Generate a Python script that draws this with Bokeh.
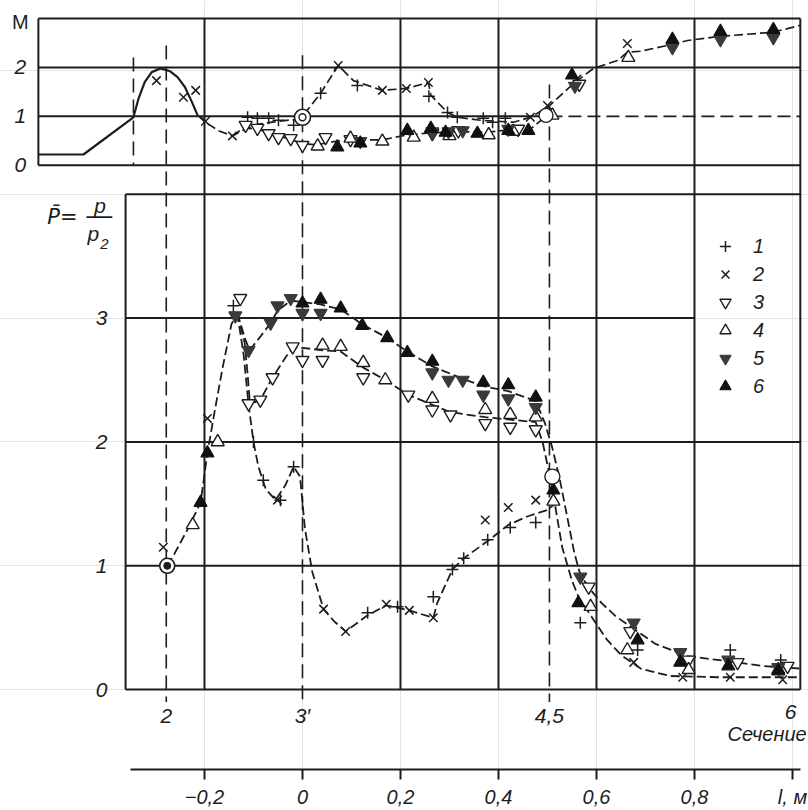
from bokeh.plotting import figure
from bokeh.models import Range1d, LinearAxis, FixedTicker, Legend, LegendItem
from bokeh.core.properties import value
from bokeh.embed import file_html
from bokeh.resources import INLINE

# ------------------------------------------------------------------ data
# l, m : position along the duct;  M : Mach number (top);  P = p/p2 (bottom)
L_TICKS = [-0.2, 0.0, 0.2, 0.4, 0.6, 0.8, 1.0]
L_TICK_LABELS = ["\u22120,2", "0", "0,2", "0,4", "0,6", "0,8", "l, \u043c"]
M_TICKS = [0, 1, 2]
P_TICKS = [0, 1, 2, 3]
GRID_L = [-0.2, 0.2, 0.4, 0.6, 0.8]

SECTION_NAMES = ["2", "3\u2032", "4,5", "6"]
SECTION_L = [-0.278, 0.0, 0.504, 1.016]
SECTION_TOP_M = [2.45, 2.25, 1.65]
THROAT_L = -0.345
THROAT_TOP_M = 2.2

LEGEND_LABELS = ["1", "2", "3", "4", "5", "6"]

# --- top panel, M(l)
M_THEORY_L = [-0.539, -0.447, -0.345, -0.335, -0.322, -0.308, -0.29, -0.27, -0.255, -0.24, -0.226, -0.214]
M_THEORY = [0.22, 0.22, 0.98, 1.35, 1.7, 1.9, 1.98, 1.92, 1.8, 1.6, 1.3, 1.02]

M_UPPER_L = [-0.214, -0.198, -0.17, -0.143, -0.12, -0.09, -0.05, -0.018, 0.0, 0.037, 0.073, 0.104,
             0.163, 0.212, 0.257, 0.262, 0.296, 0.316, 0.363, 0.431, 0.465, 0.5, 0.553, 0.594,
             0.643, 0.663, 0.69, 0.745, 0.786, 0.847, 0.961, 1.016]
M_UPPER = [1.02, 0.88, 0.7, 0.6, 0.72, 0.84, 0.9, 0.93, 1.0, 1.47, 2.04, 1.73,
           1.53, 1.57, 1.69, 1.43, 1.08, 0.98, 0.92, 0.88, 0.98, 1.18, 1.67, 1.98,
           2.14, 2.31, 2.33, 2.45, 2.55, 2.63, 2.72, 2.86]
M_LOWER_L = [-0.143, -0.12, -0.09, -0.06, -0.03, 0.0, 0.03, 0.06, 0.1, 0.163, 0.214, 0.26,
             0.32, 0.37, 0.42, 0.465, 0.497]
M_LOWER = [0.6, 0.76, 0.74, 0.62, 0.55, 0.44, 0.42, 0.48, 0.52, 0.52, 0.62, 0.66,
           0.69, 0.67, 0.72, 0.74, 1.0]

M1_L = [-0.112, -0.092, -0.069, -0.049, -0.018, 0.037, 0.112, 0.258, 0.296, 0.316, 0.369, 0.388, 0.414]
M1 = [0.98, 0.96, 0.96, 0.92, 0.82, 1.47, 1.63, 1.41, 1.08, 0.98, 0.96, 0.88, 0.96]
M2_L = [-0.298, -0.243, -0.218, -0.198, -0.143, 0.073, 0.163, 0.212, 0.257, 0.465, 0.5, 0.56, 0.663]
M2 = [1.73, 1.39, 1.53, 0.9, 0.6, 2.04, 1.53, 1.57, 1.69, 0.98, 1.22, 1.76, 2.49]
M3_L = [-0.116, -0.092, -0.069, -0.049, -0.024, 0.0, 0.047, 0.098, 0.265, 0.318, 0.44, 0.565]
M3 = [0.82, 0.76, 0.65, 0.57, 0.55, 0.41, 0.57, 0.53, 0.65, 0.71, 0.74, 1.66]
M4_L = [0.031, 0.098, 0.163, 0.227, 0.3, 0.38, 0.43, 0.51, 0.665]
M4 = [0.39, 0.55, 0.49, 0.57, 0.6, 0.62, 0.69, 1.02, 2.2]
M5_L = [0.118, 0.265, 0.298, 0.327, 0.42, 0.556, 0.755, 0.853, 0.961]
M5 = [0.49, 0.69, 0.69, 0.71, 0.74, 1.62, 2.41, 2.57, 2.61]
M6_L = [0.071, 0.118, 0.214, 0.262, 0.292, 0.357, 0.42, 0.461, 0.55, 0.755, 0.853, 0.961]
M6 = [0.37, 0.45, 0.71, 0.75, 0.67, 0.65, 0.71, 0.71, 1.84, 2.57, 2.73, 2.77]

M_RING = (0.0, 0.98)        # double ring, section 3'
M_OPEN = (0.497, 1.02)      # open circle, section 4,5

# --- bottom panel, P(l)
P_RISE_L = [-0.276, -0.265, -0.235, -0.208, -0.194, -0.18, -0.163, -0.145, -0.133]
P_RISE = [1.0, 1.07, 1.29, 1.51, 1.91, 2.23, 2.6, 2.95, 3.04]
P_C56_L = [-0.133, -0.116, -0.108, -0.086, -0.065, -0.051, -0.024, 0.0, 0.037, 0.078, 0.122,
           0.173, 0.214, 0.265, 0.327, 0.369, 0.42, 0.476, 0.495, 0.51, 0.525, 0.54, 0.555,
           0.567, 0.585, 0.61, 0.64, 0.669, 0.72, 0.786, 0.867, 0.94, 1.016]
P_C56 = [3.04, 2.82, 2.74, 2.85, 2.96, 3.06, 3.14, 3.13, 3.11, 3.07, 2.95,
         2.84, 2.73, 2.61, 2.51, 2.45, 2.41, 2.33, 2.15, 1.95, 1.7, 1.4, 1.1,
         0.93, 0.82, 0.7, 0.59, 0.51, 0.37, 0.27, 0.23, 0.19, 0.17]
P_C34_L = [-0.133, -0.118, -0.112, -0.108, -0.098, -0.086, -0.061, -0.035, -0.02, 0.0, 0.041,
           0.078, 0.124, 0.169, 0.216, 0.265, 0.302, 0.373, 0.424, 0.476, 0.49, 0.505, 0.515,
           0.53, 0.55, 0.563, 0.588, 0.62, 0.65, 0.69, 0.75, 0.85, 1.016]
P_C34 = [3.04, 2.8, 2.55, 2.35, 2.32, 2.34, 2.52, 2.68, 2.76, 2.76, 2.74,
         2.73, 2.6, 2.5, 2.38, 2.3, 2.24, 2.2, 2.18, 2.16, 2.0, 1.72, 1.5,
         1.15, 0.88, 0.75, 0.6, 0.41, 0.28, 0.17, 0.11, 0.1, 0.1]
P_C12_L = [-0.133, -0.12, -0.11, -0.1, -0.09, -0.075, -0.055, -0.035, -0.018, -0.005, 0.005,
           0.02, 0.043, 0.065, 0.088, 0.133, 0.171, 0.218, 0.267, 0.275, 0.306, 0.329, 0.378,
           0.42, 0.46, 0.5, 0.515]
P_C12 = [3.04, 2.7, 2.3, 2.0, 1.8, 1.62, 1.53, 1.65, 1.8, 1.72, 1.3,
         0.95, 0.65, 0.55, 0.47, 0.6, 0.68, 0.64, 0.58, 0.7, 0.97, 1.06, 1.2,
         1.33, 1.4, 1.45, 1.5]

P1_L = [-0.141, -0.1, -0.08, -0.045, -0.018, 0.133, 0.194, 0.267, 0.306, 0.329, 0.378, 0.424,
        0.476, 0.567, 0.684, 0.873, 0.976]
P1 = [3.10, 2.0, 1.69, 1.53, 1.80, 0.62, 0.67, 0.75, 0.97, 1.06, 1.21, 1.31,
      1.35, 0.54, 0.32, 0.32, 0.24]
P2_L = [-0.284, -0.194, -0.051, 0.043, 0.088, 0.171, 0.218, 0.267, 0.373, 0.42, 0.476, 0.676,
        0.776, 0.873, 0.98]
P2 = [1.15, 2.19, 1.53, 0.65, 0.47, 0.69, 0.64, 0.58, 1.37, 1.47, 1.53, 0.22,
      0.10, 0.10, 0.08]
P3_L = [-0.127, -0.11, -0.086, -0.061, -0.02, 0.0, 0.041, 0.124, 0.216, 0.265, 0.302, 0.373,
        0.424, 0.476, 0.584, 0.669, 0.788, 0.888, 0.99]
P3 = [3.16, 2.31, 2.34, 2.52, 2.77, 2.66, 2.66, 2.52, 2.38, 2.26, 2.22, 2.15,
      2.12, 2.10, 0.83, 0.47, 0.24, 0.22, 0.19]
P4_L = [-0.224, -0.173, 0.041, 0.078, 0.124, 0.169, 0.265, 0.373, 0.424, 0.476, 0.512, 0.588,
        0.663, 0.788, 0.971]
P4 = [1.33, 2.0, 2.78, 2.77, 2.64, 2.50, 2.35, 2.26, 2.22, 2.20, 1.52, 0.67,
      0.32, 0.16, 0.16]
P5_L = [-0.137, -0.11, -0.065, -0.051, -0.024, 0.0, 0.037, 0.265, 0.298, 0.327, 0.369, 0.42,
        0.476, 0.567, 0.676, 0.771, 0.869, 0.971]
P5 = [3.02, 2.74, 2.96, 3.10, 3.16, 3.04, 3.04, 2.56, 2.50, 2.50, 2.38, 2.35,
      2.28, 0.91, 0.54, 0.30, 0.24, 0.18]
P6_L = [-0.208, -0.194, 0.0, 0.037, 0.078, 0.122, 0.173, 0.214, 0.265, 0.369, 0.42, 0.476,
        0.512, 0.563, 0.684, 0.771, 0.869, 0.971]
P6 = [1.51, 1.91, 3.12, 3.15, 3.08, 2.94, 2.84, 2.72, 2.65, 2.48, 2.46, 2.36,
      1.61, 0.70, 0.40, 0.22, 0.19, 0.15]

P_RING = (-0.276, 1.0)      # section 2 reference point
P_OPEN = (0.51, 1.72)       # open circle, section 4,5

# ------------------------------------------------------------------ layout
L_START, L_END = -0.6163, 1.0327
P_START, P_END = -0.645, 5.5645
M_START, M_END = -12.347, 3.367
TOP_LEFT_L, BOT_LEFT_L, RIGHT_L = -0.539, -0.361, 1.016
M_TOP, P_TOP = 3.0, 4.0
AXIS_BOUNDS = (-0.351, 1.016)

INK = "#1d1d1d"
FONT = value("Liberation Sans")


def m_of_p(pv):
    return M_START + (pv - P_START) * (M_END - M_START) / (P_END - P_START)


p = figure(width=808, height=810, x_range=Range1d(L_START, L_END),
           y_range=Range1d(P_START, P_END), output_backend="svg",
           toolbar_location=None, x_axis_location=None, y_axis_location=None,
           min_border_left=0, min_border_right=0, min_border_top=0,
           min_border_bottom=40, outline_line_color=None,
           background_fill_color="white", border_fill_color="white")
p.extra_y_ranges = {"M": Range1d(M_START, M_END)}

ax = LinearAxis(ticker=FixedTicker(ticks=L_TICKS), bounds=AXIS_BOUNDS)
ax.major_label_overrides = {t: s for t, s in zip(L_TICKS, L_TICK_LABELS)}
ax.axis_line_width = 2
ax.axis_line_color = INK
ax.major_tick_in = 0
ax.major_tick_out = 10
ax.major_tick_line_width = 2
ax.major_tick_line_color = INK
ax.minor_tick_line_color = None
ax.major_label_standoff = 6
ax.major_label_text_font = "Liberation Sans"
ax.major_label_text_font_style = "italic"
ax.major_label_text_font_size = "20px"
ax.major_label_text_color = INK
p.add_layout(ax, "below")

# ---------------- frame & grid (top panel, M coordinates)
bottom_m = m_of_p(0.0)
top_xs = [[TOP_LEFT_L, RIGHT_L], [TOP_LEFT_L, RIGHT_L], [TOP_LEFT_L, TOP_LEFT_L],
          [TOP_LEFT_L, RIGHT_L], [TOP_LEFT_L, SECTION_L[2]], [RIGHT_L, RIGHT_L]]
top_ys = [[M_TOP, M_TOP], [M_TICKS[0], M_TICKS[0]], [M_TICKS[0], M_TOP],
          [M_TICKS[2], M_TICKS[2]], [M_TICKS[1], M_TICKS[1]], [M_TOP, bottom_m]]
for g in GRID_L:
    top_xs.append([g, g])
    top_ys.append([M_TOP, bottom_m])
p.multi_line(top_xs, top_ys, line_color=INK, line_width=2, y_range_name="M")
# dashed continuation of M = 1
p.line([SECTION_L[2], RIGHT_L], [M_TICKS[1], M_TICKS[1]], line_color=INK, line_width=1.6,
       line_dash="13 6", y_range_name="M")

# ---------------- frame & grid (bottom panel, P coordinates)
bot_xs = [[BOT_LEFT_L, RIGHT_L], [BOT_LEFT_L, RIGHT_L], [BOT_LEFT_L, BOT_LEFT_L],
          [BOT_LEFT_L, RIGHT_L], [BOT_LEFT_L, RIGHT_L], [BOT_LEFT_L, GRID_L[-1]]]
bot_ys = [[P_TOP, P_TOP], [P_TICKS[0], P_TICKS[0]], [P_TICKS[0], P_TOP],
          [P_TICKS[1], P_TICKS[1]], [P_TICKS[2], P_TICKS[2]], [P_TICKS[3], P_TICKS[3]]]
p.multi_line(bot_xs, bot_ys, line_color=INK, line_width=2)

# ---------------- section (dashed) lines
sec_bottom_m = m_of_p(-0.1)
sec_xs = [[THROAT_L, THROAT_L]] + [[s, s] for s in SECTION_L[:3]]
sec_ys = [[THROAT_TOP_M, 0.0]] + [[t, sec_bottom_m] for t in SECTION_TOP_M]
p.multi_line(sec_xs, sec_ys, line_color=INK, line_width=1.6, line_dash="14 7", y_range_name="M")

# ---------------- curves
p.line(M_THEORY_L, M_THEORY, line_color=INK, line_width=2.2, y_range_name="M")
for xs, ys in [(M_UPPER_L, M_UPPER), (M_LOWER_L, M_LOWER)]:
    p.line(xs, ys, line_color=INK, line_width=1.7, line_dash="9 4", y_range_name="M")
for xs, ys in [(P_RISE_L, P_RISE), (P_C56_L, P_C56), (P_C34_L, P_C34), (P_C12_L, P_C12)]:
    p.line(xs, ys, line_color=INK, line_width=1.8, line_dash="9 4")

# ---------------- markers
STYLES = [
    dict(marker="cross", size=12, line_color=INK, line_width=1.5),
    dict(marker="x", size=12, line_color=INK, line_width=1.5),
    dict(marker="inverted_triangle", size=13, line_color=INK, fill_color="white", line_width=1.4),
    dict(marker="triangle", size=13, line_color=INK, fill_color="white", line_width=1.4),
    dict(marker="inverted_triangle", size=13, line_color="#3a3a3a", fill_color="#3a3a3a", line_width=1.2),
    dict(marker="triangle", size=13, line_color="#111111", fill_color="#111111", line_width=1.2),
]
TOP_SERIES = [(M1_L, M1), (M2_L, M2), (M3_L, M3), (M4_L, M4), (M5_L, M5), (M6_L, M6)]
BOT_SERIES = [(P1_L, P1), (P2_L, P2), (P3_L, P3), (P4_L, P4), (P5_L, P5), (P6_L, P6)]
for (xs, ys), st in zip(TOP_SERIES, STYLES):
    p.scatter(xs, ys, y_range_name="M", **st)
bot_renderers = []
for (xs, ys), st in zip(BOT_SERIES, STYLES):
    bot_renderers.append(p.scatter(xs, ys, **st))

# reference points
p.scatter([M_RING[0]], [M_RING[1]], marker="circle", size=16, fill_color="white", line_color=INK, line_width=1.6, y_range_name="M")
p.scatter([M_RING[0]], [M_RING[1]], marker="circle", size=7, fill_color="white", line_color=INK, line_width=1.4, y_range_name="M")
p.scatter([M_OPEN[0]], [M_OPEN[1]], marker="circle", size=14, fill_color="white", line_color=INK, line_width=1.4, y_range_name="M")
p.scatter([P_RING[0]], [P_RING[1]], marker="circle", size=15, fill_color="white", line_color=INK, line_width=1.6)
p.scatter([P_RING[0]], [P_RING[1]], marker="circle", size=7, fill_color=INK, line_color=INK)
p.scatter([P_OPEN[0]], [P_OPEN[1]], marker="circle", size=15, fill_color="white", line_color=INK, line_width=1.4)

# ---------------- legend
legend = Legend(items=[LegendItem(label=lab, renderers=[r]) for lab, r in zip(LEGEND_LABELS, bot_renderers)],
                location=(711, 369), orientation="vertical", padding=0, margin=0, spacing=0,
                glyph_width=28, glyph_height=28, label_height=28, label_standoff=14,
                border_line_color=None, background_fill_alpha=0,
                label_text_font="Liberation Sans", label_text_font_style="italic",
                label_text_font_size="20px", label_text_color=INK)
p.add_layout(legend, "center")

# ---------------- texts
TXT = dict(text_font=FONT, text_color=INK, text_align="center", text_baseline="middle")
p.text([-0.576], [2.92], text=["M"], text_font_size="20px", y_range_name="M", **TXT)
p.text([-0.576] * len(M_TICKS), M_TICKS, text=[str(t) for t in M_TICKS], text_font_size="21px",
       text_font_style="italic", y_range_name="M", **TXT)
p.text([-0.41] * len(P_TICKS), P_TICKS, text=[str(t) for t in P_TICKS], text_font_size="21px",
       text_font_style="italic", **TXT)
# P = p / p2
p.text([-0.49], [3.82], text=["P\u0304="], text_font_size="21px", text_font_style="italic",
       text_font=value("DejaVu Sans"), text_color=INK, text_align="center", text_baseline="middle")
p.text([-0.413], [3.91], text=["p"], text_font_size="21px", text_font_style="italic", **TXT)
p.line([-0.441, -0.388], [3.815, 3.815], line_color=INK, line_width=1.6)
p.text([-0.427], [3.68], text=["p"], text_font_size="21px", text_font_style="italic", **TXT)
p.text([-0.404], [3.6], text=["2"], text_font_size="15px", text_font_style="italic", **TXT)
# sections
p.text(SECTION_L[:3], [-0.21] * 3, text=SECTION_NAMES[:3], text_font_size="21px",
       text_font_style="italic", **TXT)
p.text([SECTION_L[3] - 0.02], [-0.18], text=[SECTION_NAMES[3]], text_font_size="21px",
       text_font_style="italic", **TXT)
p.text([1.029], [-0.36], text=["\u0421\u0435\u0447\u0435\u043d\u0438\u0435"], text_font_size="20px",
       text_font_style="italic", text_font=FONT, text_color=INK, text_align="right",
       text_baseline="middle")

open("out.html", "w").write(file_html(p, INLINE))
